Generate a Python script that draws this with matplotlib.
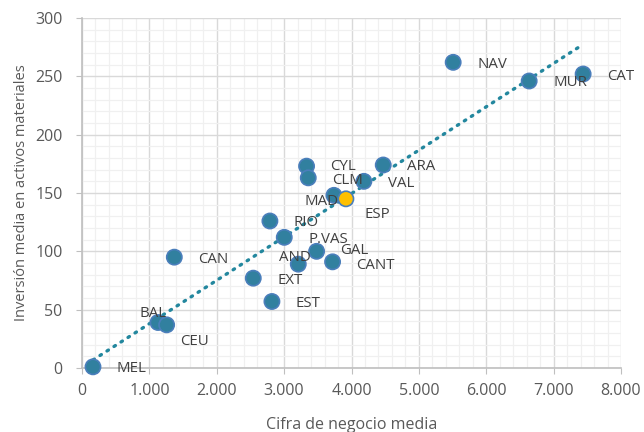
import matplotlib.pyplot as plt
import numpy as np
from matplotlib.ticker import FuncFormatter, MultipleLocator

regions = ["MEL", "BAL", "CEU", "CAN", "EXT", "EST", "RIO", "P.VAS", "AND", "GAL",
           "CANT", "MAD", "ESP", "CYL", "CLM", "VAL", "ARA", "NAV", "MUR", "CAT"]
negocio = [163, 1128, 1256, 1370, 2542, 2819, 2789, 3002, 3210, 3482,
           3719, 3739, 3917, 3333, 3358, 4184, 4471, 5509, 6637, 7438]
inversion = [1, 39, 37, 95, 77, 57, 126, 112, 89, 100,
             91, 148, 145, 173, 163, 160, 174, 262, 246, 252]

# label offsets in pixels (default: to the right of the point)
label_offsets = {"BAL": (-18, 9), "CEU": (14, -17), "AND": (-19, 7),
                 "MAD": (-29, -6), "ESP": (19, -16), "CYL": (24, 0),
                 "CLM": (24, -3), "GAL": (24, 1), "CANT": (24, -4)}

blue = "#31809F"
text_color = "#404040"
plt.rcParams["font.family"] = ["Open Sans", "DejaVu Sans"]

fig = plt.figure(figsize=(6.44, 4.32), dpi=100)
ax = fig.add_axes([82 / 644, 1 - 368 / 432, (621 - 82) / 644, 350 / 432])

# trend line
coef = np.polyfit(negocio, inversion, 1)
xs = np.array([min(negocio), max(negocio) - 30])
ax.plot(xs, np.polyval(coef, xs), color="#23879E", linestyle=(0, (0.5, 2.0)),
        linewidth=2.4, dash_capstyle="round", zorder=2)

colors = ["#FFC000" if r == "ESP" else blue for r in regions]
ax.scatter(negocio, inversion, s=120, c=colors, edgecolors="#4A7EBB",
           linewidths=1.2, zorder=3, clip_on=False)

for r, x, y in zip(regions, negocio, inversion):
    dx, dy = label_offsets.get(r, (24, -2))
    ax.annotate(r, (x, y), xytext=(dx, dy), textcoords="offset pixels",
                ha="left", va="center", fontsize=10.8, color=text_color, zorder=4)

ax.set_xlim(0, 8000)
ax.set_ylim(0, 300)
ax.xaxis.set_major_locator(MultipleLocator(1000))
ax.xaxis.set_minor_locator(MultipleLocator(200))
ax.yaxis.set_major_locator(MultipleLocator(50))
ax.yaxis.set_minor_locator(MultipleLocator(10))
ax.xaxis.set_major_formatter(FuncFormatter(lambda v, p: f"{int(v):,}".replace(",", ".")))
ax.grid(which="major", color="#D9D9D9", linewidth=1.0)
ax.grid(which="minor", color="#F0F0F0", linewidth=0.9)
ax.set_axisbelow(True)

for s in ["top", "right"]:
    ax.spines[s].set_visible(False)
for s in ["left", "bottom"]:
    ax.spines[s].set_color("#BFBFBF")
    ax.spines[s].set_linewidth(1.2)
ax.tick_params(which="major", length=4, color="#BFBFBF", labelsize=11.5,
               labelcolor="#595959")
ax.tick_params(axis="x", pad=7)
ax.tick_params(axis="y", pad=10)
ax.tick_params(which="minor", length=0)

fig.text(352 / 644, 1 - 425 / 432, "Cifra de negocio media", ha="center", va="center",
         fontsize=11.5, color="#595959")
fig.text(22 / 644, 1 - 193 / 432, "Inversión media en activos materiales", ha="center",
         va="center", rotation=90, fontsize=10.5, color="#595959")

fig.savefig("out.png", dpi=100)
